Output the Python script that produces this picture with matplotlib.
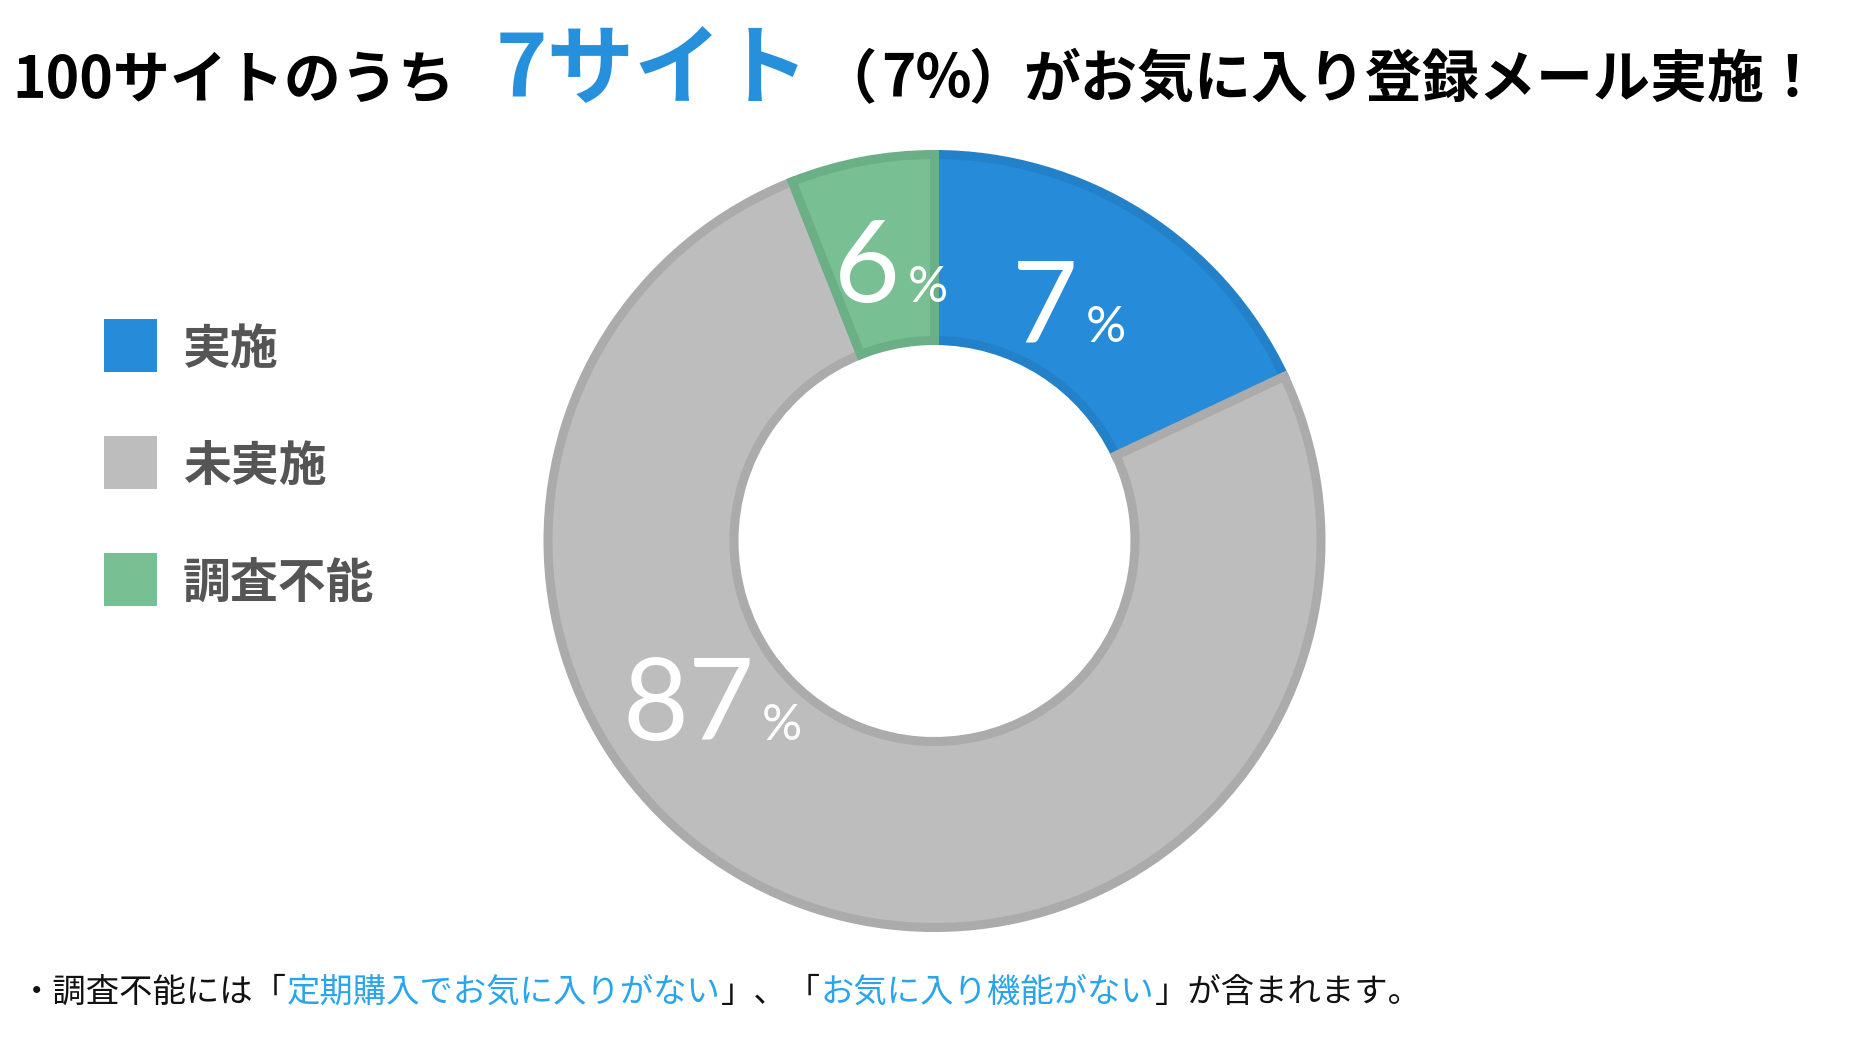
import matplotlib
matplotlib.use('Agg')
import matplotlib.pyplot as plt
from matplotlib.patches import Rectangle

# data
categories = ['実施', '未実施', '調査不能']
label_values = [7, 87, 6]          # numbers printed on the chart
slice_shares = [18, 76, 6]         # wedge sizes as drawn in the picture
fill_colors = ['#268CD9', '#BDBDBD', '#78C094']
edge_colors = ['#2281C9', '#ABABAB', '#6BAF86']

title_runs = ['100サイトのうち', '7サイト', '（', '7%', '）', 'がお気に入り登録メール実施！']
note_runs = ['・調査不能には「', '定期購入でお気に入りがない', '」、「',
             'お気に入り機能がない', '」が含まれます。']

JP = ['Noto Sans CJK JP', 'DejaVu Sans']
NUM = ['Lato', 'DejaVu Sans']
W, H = 1852, 1048

fig = plt.figure(figsize=(W / 100, H / 100), dpi=100)
fig.patch.set_facecolor('white')

#####################################
# donut
#####################################
ax = fig.add_axes([0, 0, 1, 1])
wedges, _ = ax.pie(slice_shares, colors=fill_colors, startangle=90, counterclock=False,
                   center=(934.5, H - 541), radius=386.5,
                   wedgeprops=dict(width=186))
for w, ec in zip(wedges, edge_colors):
    w.set_edgecolor(ec)
    w.set_linewidth(6.5)
    w.set_joinstyle('miter')
ax.set_xlim(0, W)
ax.set_ylim(0, H)
ax.set_aspect('auto')
ax.axis('off')

# overlay in pixel coords, y pointing down
ov = fig.add_axes([0, 0, 1, 1])
ov.set_xlim(0, W)
ov.set_ylim(H, 0)
ov.axis('off')
renderer = fig.canvas.get_renderer()


def put_runs(x, y, runs, sizes, colors, weight, gaps):
    for s, size, c, g in zip(runs, sizes, colors, gaps):
        t = ov.text(x, y, s, fontsize=size, color=c, weight=weight, family=JP,
                    ha='left', va='baseline')
        x += t.get_window_extent(renderer).width + g
    return x


# title, each run at its own start
title_x = [12, 496, 818, 881, 968, 1023]
title_sizes = [41, 63, 42, 42, 42, 41]
title_colors = ['black', '#2690DC', 'black', 'black', 'black', 'black']
for s, x0, fs, c in zip(title_runs, title_x, title_sizes, title_colors):
    ov.text(x0, 97, s, fontsize=fs, color=c, weight='bold', family=JP,
            ha='left', va='baseline')

# footer note
put_runs(20, 1002, note_runs, [24] * 5,
         ['#111111', '#2AA5EC', '#111111', '#2AA5EC', '#111111'], 'normal',
         [0] * 5)

# legend
for i, (name, col) in enumerate(zip(categories, fill_colors)):
    y0 = 319 + i * 117
    ov.add_patch(Rectangle((104, y0), 53, 53, facecolor=col, edgecolor='none'))
    ov.text(183, y0 + 26 + 19, name, fontsize=34.5, weight='bold', color='#555555',
            family=JP, ha='left', va='baseline')

# percent labels
label_pos = [(1012, 342), (622, 740), (834, 302)]
for v, (lx, ly) in zip(label_values, label_pos):
    t = ov.text(lx, ly, str(v), fontsize=82, color='white', family=NUM,
                ha='left', va='baseline')
    wdt = t.get_window_extent(renderer).width
    ov.text(lx + wdt + 8, ly, '%', fontsize=36, color='white', family=NUM,
            ha='left', va='baseline')

fig.savefig('out.png', dpi=100, facecolor='white')
